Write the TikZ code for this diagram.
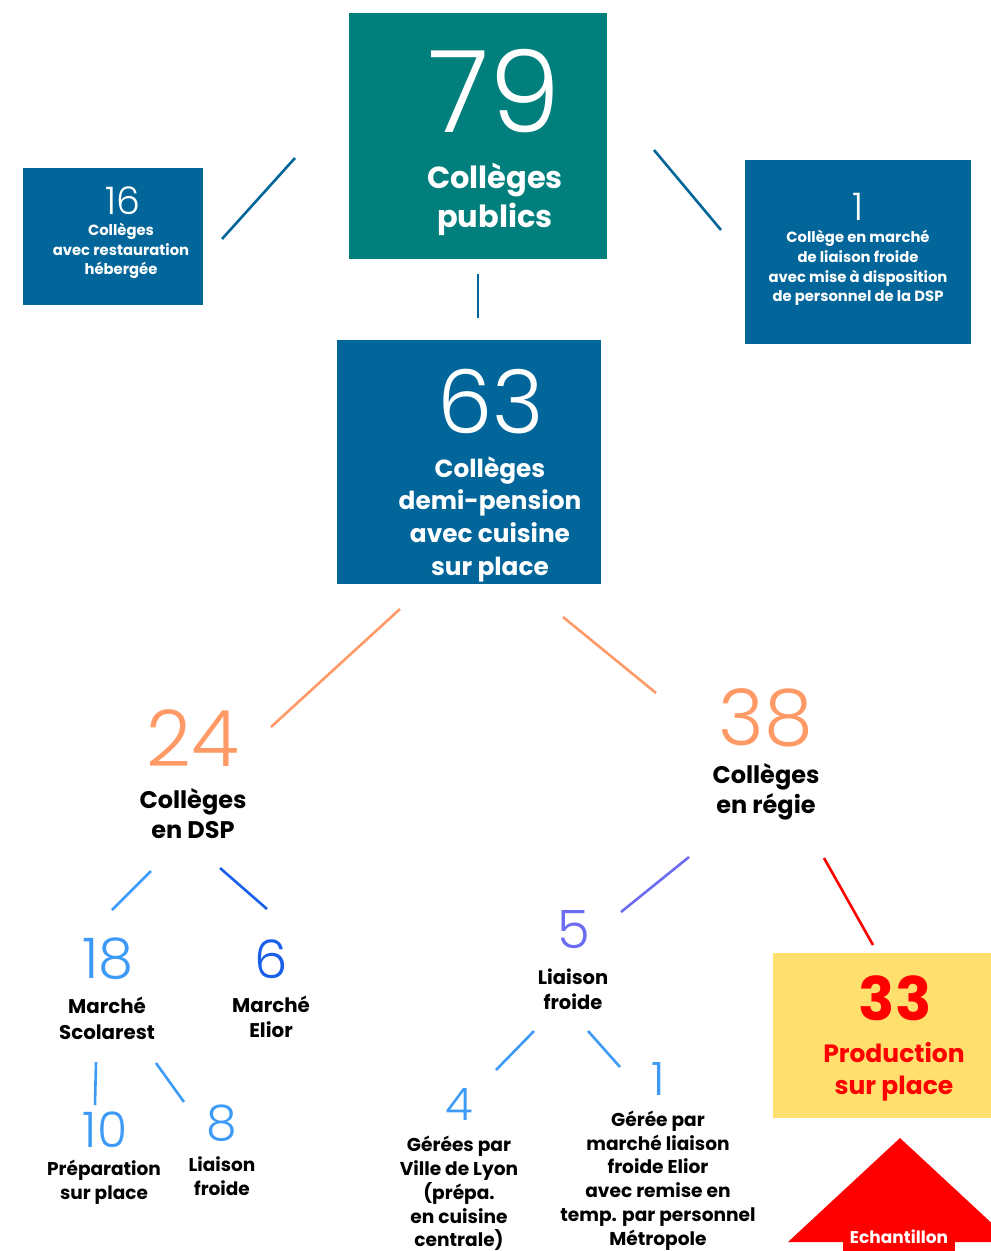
\documentclass[tikz,border=0pt]{standalone}
\usepackage{fontspec}
\setmainfont{Poppins}
\newfontfamily\numfont{Poppins Light}
\definecolor{tealbox}{HTML}{007F7C}
\definecolor{bluebox}{HTML}{02669B}
\definecolor{orangeline}{HTML}{FF9A66}
\definecolor{lightblue}{HTML}{3D9BF7}
\definecolor{deepblue}{HTML}{1A5FEA}
\definecolor{violet}{HTML}{6C6CF2}
\definecolor{pureRed}{HTML}{FF0000}
\definecolor{sunny}{HTML}{FFDF6E}
\tikzset{
  num/.style 2 args={anchor=base, inner sep=0pt, text depth=0pt, text=#2, font=\numfont\fontsize{#1}{#1}\selectfont},
  lbl/.style={anchor=center, inner sep=0pt, align=center, text=#1},
  link/.style={line width=2.6pt, draw=#1}
}
\begin{document}
\begin{tikzpicture}[x=1pt, y=-1pt]
\useasboundingbox (0,0) rectangle (991,1251);

% boxes
\fill[tealbox] (349,13) rectangle (607,259);
\fill[bluebox] (23,168) rectangle (203,305);
\fill[bluebox] (745,160) rectangle (971,344);
\fill[bluebox] (337,340) rectangle (601,584);
\fill[sunny] (773,953) rectangle (991,1118);

% top level
\node[num={114}{white}] (n79) at (495,132) {79};
\node[lbl=white, font=\bfseries\fontsize{30.5}{39}\selectfont] (t79) at (495,199) {Collèges\\publics};

\node[num={38}{white}] (n16) at (123,214) {16};
\node[lbl=white, font=\bfseries\fontsize{14.8}{19.5}\selectfont] (t16) at (121,251) {Collèges\\avec restauration\\hébergée};

\node[num={38}{white}] (n1a) at (858,220) {1};
\node[lbl=white, font=\bfseries\fontsize{14.8}{19.7}\selectfont] (t1a) at (858,268) {Collège en marché\\de liaison froide\\avec mise à disposition\\de personnel de la DSP};

\node[num={88}{white}] (n63) at (491,433) {63};
\node[lbl=white, font=\bfseries\fontsize{24.8}{32.7}\selectfont] (t63) at (490,519) {Collèges\\demi-pension\\avec cuisine\\sur place};

% second level
\node[num={78}{orangeline}] (n24) at (193,766) {24};
\node[lbl=black, font=\bfseries\fontsize{24}{30}\selectfont] (t24) at (193,814) {Collèges\\en DSP};

\node[num={78}{orangeline}] (n38) at (766,745) {38};
\node[lbl=black, font=\bfseries\fontsize{24}{30}\selectfont] (t38) at (766,792) {Collèges\\en régie};

% DSP branch
\node[num={56}{lightblue}] (n18) at (108,978) {18};
\node[lbl=black, font=\bfseries\fontsize{19.8}{26}\selectfont] (t18) at (107,1018) {Marché\\Scolarest};

\node[num={53}{deepblue}] (n6) at (271,978) {6};
\node[lbl=black, font=\bfseries\fontsize{19.8}{25}\selectfont] (t6) at (271,1016.5) {Marché\\Elior};

\node[num={49}{lightblue}] (n10) at (105,1147) {10};
\node[lbl=black, font=\bfseries\fontsize{18.5}{24}\selectfont] (t10) at (104,1182) {Préparation\\sur place};

\node[num={49}{lightblue}] (n8) at (222,1140) {8};
\node[lbl=black, font=\bfseries\fontsize{18.5}{24}\selectfont] (t8) at (222,1176) {Liaison\\froide};

% régie branch
\node[num={53}{violet}] (n5) at (574,948) {5};
\node[lbl=black, font=\bfseries\fontsize{19.5}{25}\selectfont] (t5) at (573,989.5) {Liaison\\froide};

\node[num={45}{lightblue}] (n4) at (459,1120) {4};
\node[lbl=black, font=\bfseries\fontsize{18.6}{23.75}\selectfont] (t4) at (459,1193.5) {Gérées par\\Ville de Lyon\\(prépa.\\en cuisine\\centrale)};

\node[num={46}{lightblue}] (n1b) at (658,1095) {1};
\node[lbl=black, font=\bfseries\fontsize{18.6}{23.8}\selectfont] (t1b) at (658,1180.5) {Gérée par\\marché liaison\\froide Elior\\avec remise en\\temp. par personnel\\Métropole};

\node[anchor=base, inner sep=0pt, text depth=0pt, text=pureRed, font=\bfseries\fontsize{60}{60}\selectfont] (n33) at (895,1020) {33};
\node[lbl=pureRed, font=\bfseries\fontsize{25}{32}\selectfont] (t33) at (894,1072) {Production\\sur place};

% sample marker
\fill[pureRed] (900,1138) -- (788,1242) -- (1012,1242) -- cycle;
\fill[pureRed] (843,1226) rectangle (955,1251);
\node[anchor=center, inner sep=0pt, text=white, font=\bfseries\fontsize{17}{17}\selectfont] (ech) at (899,1237) {Echantillon};

% connector end points
\coordinate (a1) at (222,239); \coordinate (a2) at (295,158);
\coordinate (b1) at (654,150); \coordinate (b2) at (721,230);
\coordinate (c1) at (478,274); \coordinate (c2) at (478,318);
\coordinate (d1) at (400,609); \coordinate (d2) at (271,727);
\coordinate (e1) at (563,617); \coordinate (e2) at (656,693);
\coordinate (f1) at (151,871); \coordinate (f2) at (112,910);
\coordinate (g1) at (220,868); \coordinate (g2) at (267,909);
\coordinate (h1) at (96,1062); \coordinate (h2) at (95,1105);
\coordinate (i1) at (156,1063); \coordinate (i2) at (184,1102);
\coordinate (j1) at (689,857); \coordinate (j2) at (621,912);
\coordinate (k1) at (534,1031); \coordinate (k2) at (496,1070);
\coordinate (l1) at (588,1031); \coordinate (l2) at (620,1067);
\coordinate (m1) at (824,858); \coordinate (m2) at (873,945);

\draw[link=bluebox] (a1) -- (a2);
\draw[link=bluebox] (b1) -- (b2);
\draw[link=bluebox] (c1) -- (c2);
\draw[link=orangeline] (d1) -- (d2);
\draw[link=orangeline] (e1) -- (e2);
\draw[link=lightblue] (f1) -- (f2);
\draw[link=deepblue] (g1) -- (g2);
\draw[link=lightblue] (h1) -- (h2);
\draw[link=lightblue] (i1) -- (i2);
\draw[link=violet] (j1) -- (j2);
\draw[link=lightblue] (k1) -- (k2);
\draw[link=lightblue] (l1) -- (l2);
\draw[link=pureRed] (m1) -- (m2);
\end{tikzpicture}
\end{document}
